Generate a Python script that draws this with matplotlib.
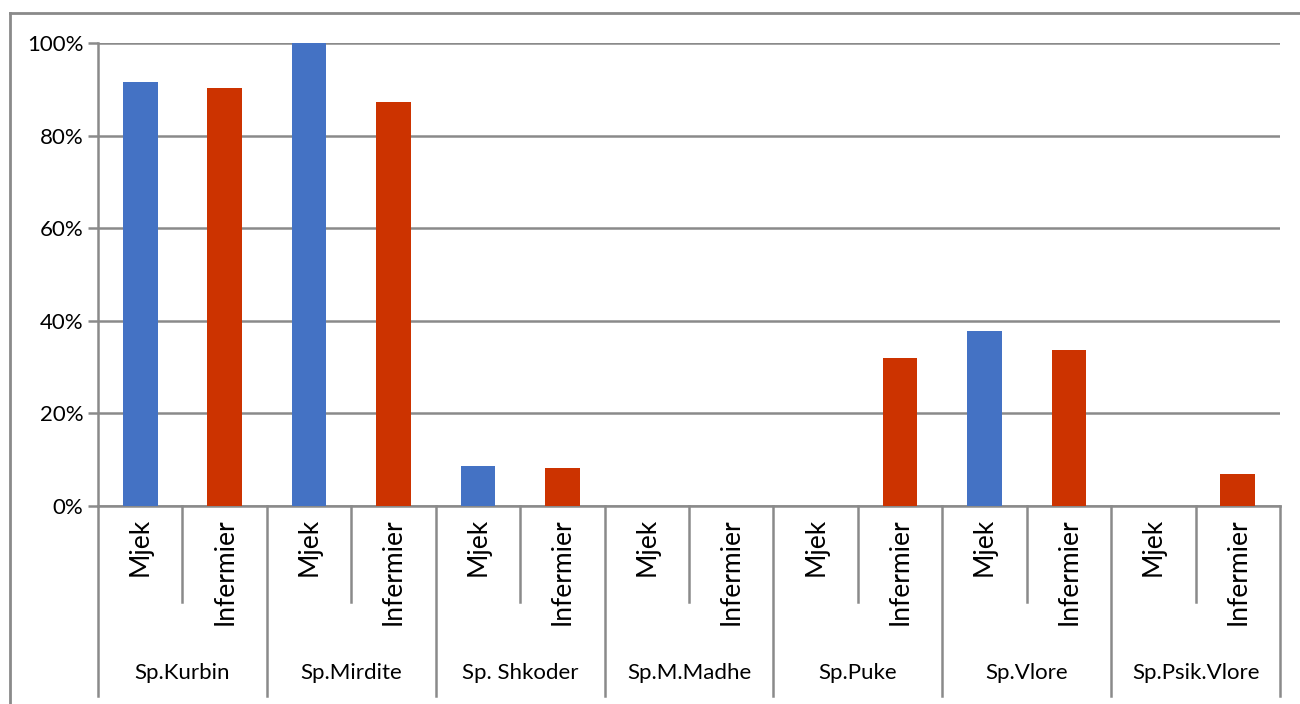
import matplotlib
matplotlib.use("Agg")
import matplotlib.pyplot as plt
from matplotlib.lines import Line2D
import matplotlib.transforms as mtransforms

groups = ["Sp.Kurbin", "Sp.Mirdite", "Sp. Shkoder", "Sp.M.Madhe", "Sp.Puke", "Sp.Vlore", "Sp.Psik.Vlore"]
subcats = ["Mjek", "Infermier"]
mjek = [91.6, 100.0, 8.6, 0.0, 0.0, 37.8, 0.0]
infermier = [90.3, 87.3, 8.1, 0.0, 32.0, 33.7, 6.9]
yticks = [0, 20, 40, 60, 80, 100]
ytick_labels = ["0%", "20%", "40%", "60%", "80%", "100%"]

BLUE = "#4472C4"
RED = "#CC3300"
GRID = "#8a8a8a"
FONT = "Lato"

W, H = 1300, 704
fig = plt.figure(figsize=(W / 100, H / 100), dpi=100)
L, R, B, T = 98, 1280, 506, 43
ax = fig.add_axes([L / W, 1 - B / H, (R - L) / W, (B - T) / H])

n = len(groups)
vals = []
cols = []
for m, i_ in zip(mjek, infermier):
    vals += [m, i_]
    cols += [BLUE, RED]
xs = [k + 0.5 for k in range(2 * n)]
ax.bar(xs, vals, width=0.41, color=cols, zorder=3)

ax.set_xlim(0, 2 * n)
ax.set_ylim(0, 100)
ax.set_yticks(yticks)
ax.set_yticklabels(ytick_labels, fontsize=16, fontfamily=FONT)
ax.set_xticks([])
ax.yaxis.grid(True, color=GRID, linewidth=1.8, zorder=0)
ax.tick_params(axis="y", length=7.5, width=1.8, color=GRID, pad=3)
for s in ["top", "right"]:
    ax.spines[s].set_visible(False)
for s in ["left", "bottom"]:
    ax.spines[s].set_color(GRID)
    ax.spines[s].set_linewidth(1.8)

ph = B - T
trans = mtransforms.blended_transform_factory(ax.transData, ax.transAxes)
# separators
for g in range(n + 1):
    ax.add_line(Line2D([2 * g, 2 * g], [0, -(696 - B) / ph], transform=trans,
                       color=GRID, lw=1.8, clip_on=False))
for g in range(n):
    ax.add_line(Line2D([2 * g + 1, 2 * g + 1], [0, -(602 - B) / ph], transform=trans,
                       color=GRID, lw=1.8, clip_on=False))

# labels
for k, x in enumerate(xs):
    ax.text(x, -(518 - B) / ph, subcats[k % 2], rotation=90, ha="center", va="top",
            transform=trans, fontsize=19, fontfamily=FONT)
for g, name in enumerate(groups):
    ax.text(2 * g + 1, -(673 - B) / ph, name, ha="center", va="center",
            transform=trans, fontsize=16, fontfamily=FONT)

# outer frame (top and left edges)
fig.add_artist(Line2D([10 / W, 1], [1 - 13 / H, 1 - 13 / H], transform=fig.transFigure,
                      color=GRID, lw=2))
fig.add_artist(Line2D([10 / W, 10 / W], [0, 1 - 13 / H], transform=fig.transFigure,
                      color=GRID, lw=2))

fig.savefig("out.png", dpi=100)
